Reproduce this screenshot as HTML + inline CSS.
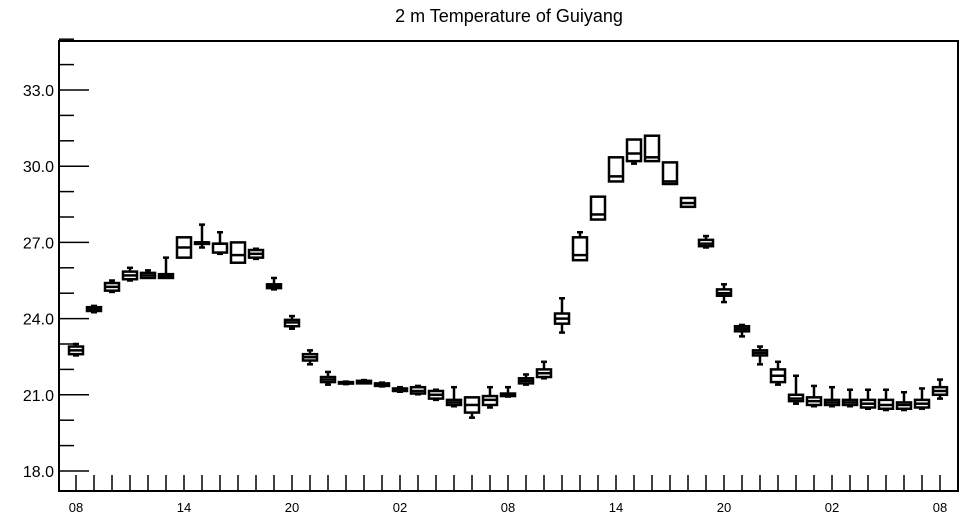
<!DOCTYPE html>
<html><head><meta charset="utf-8"><style>
body{margin:0;background:#fff;width:964px;height:520px;overflow:hidden}
svg text{font-family:"Liberation Sans",Arial,sans-serif;fill:#000}
</style></head><body>
<svg id="chart" width="964" height="520" viewBox="0 0 964 520" xmlns="http://www.w3.org/2000/svg">
<text x="509" y="22" font-size="18" text-anchor="middle">2 m Temperature of Guiyang</text>
<rect x="59" y="41" width="899" height="450" fill="none" stroke="#000" stroke-width="2"/>
<g id="axes"></g>
<g id="boxes"></g>
</svg>
<script>
const hourLabels = ["08","14","20","02","08","14","20","02","08"];
const yTicks = [18,21,24,27,30,33];
const mins = [22.55,24.25,25.05,25.5,25.6,25.6,26.4,26.8,26.55,26.2,26.35,25.15,23.6,22.2,21.4,21.42,21.45,21.33,21.12,21.02,20.8,20.55,20.1,20.5,20.93,21.4,21.65,23.45,26.3,27.9,29.4,30.1,30.2,29.3,28.4,26.8,24.65,23.3,22.2,21.4,20.65,20.55,20.55,20.55,20.45,20.4,20.4,20.45,20.85];
const q1s = [22.6,24.3,25.1,25.55,25.6,25.6,26.4,26.95,26.6,26.2,26.4,25.2,23.7,22.35,21.5,21.45,21.45,21.35,21.15,21.05,20.85,20.6,20.3,20.6,20.95,21.45,21.7,23.8,26.3,27.9,29.4,30.2,30.2,29.3,28.4,26.85,24.9,23.5,22.55,21.5,20.75,20.6,20.6,20.6,20.5,20.45,20.45,20.5,21.0];
const meds = [22.75,24.38,25.25,25.7,25.7,25.68,26.8,27.0,26.95,26.5,26.55,25.28,23.85,22.48,21.6,21.48,21.5,21.4,21.2,21.15,21.0,20.7,20.6,20.8,21.0,21.55,21.85,24.0,26.5,28.1,29.6,30.5,30.35,29.4,28.55,26.95,25.0,23.6,22.65,21.75,20.85,20.75,20.7,20.7,20.65,20.6,20.6,20.65,21.15];
const q3s = [22.9,24.45,25.4,25.85,25.8,25.75,27.2,27.0,26.95,27.0,26.7,25.35,23.95,22.6,21.7,21.5,21.55,21.45,21.25,21.3,21.15,20.8,20.9,20.95,21.05,21.65,22.0,24.2,27.2,28.8,30.35,31.05,31.2,30.15,28.75,27.1,25.15,23.7,22.75,22.0,21.0,20.9,20.8,20.8,20.8,20.8,20.7,20.8,21.3];
const maxs = [23.0,24.5,25.5,26.0,25.9,26.4,27.2,27.7,27.4,27.0,26.75,25.6,24.1,22.75,21.9,21.52,21.58,21.48,21.3,21.35,21.2,21.3,20.9,21.3,21.3,21.8,22.3,24.8,27.4,28.8,30.35,31.05,31.2,30.15,28.75,27.25,25.35,23.75,22.9,22.3,21.75,21.35,21.3,21.2,21.2,21.2,21.1,21.25,21.6];

const NS="http://www.w3.org/2000/svg";
const x = i => 76 + i*18;
const y = v => 471 - (v-18)*25.4;
function mk(tag, attrs, parent){const e=document.createElementNS(NS,tag);for(const k in attrs)e.setAttribute(k,attrs[k]);parent.appendChild(e);return e;}
const axes=document.getElementById('axes'), boxes=document.getElementById('boxes');
// y ticks
for(let v=18; v<=35; v++){
  const major = yTicks.includes(v);
  const t=mk('line',{x1:59,x2:major?89:74,y1:y(v),y2:y(v),stroke:'#000','stroke-width':1.5},axes);
  
  
}
yTicks.forEach(v=>{
  const t=mk('text',{x:54,y:y(v)+6,'font-size':16,'text-anchor':'end'},axes);
  t.textContent=v.toFixed(1);
  
  
});
// x ticks
for(let i=0;i<mins.length;i++){
  const t=mk('line',{x1:x(i),x2:x(i),y1:491,y2:475,stroke:'#000','stroke-width':1.5},axes);
  
  
}
hourLabels.forEach((l,k)=>{
  const t=mk('text',{x:x(k*6),y:512,'font-size':13,'text-anchor':'middle'},axes);
  t.textContent=l;
  
  
});
// boxes
for(let i=0;i<mins.length;i++){
  const g=mk('g',{stroke:'#000','stroke-width':2.5,fill:'none'},boxes);
  
  
  const cx=x(i), w=14;
  const top=y(q3s[i]), bot=y(q1s[i]);
  mk('rect',{x:cx-w/2,y:top,width:w,height:Math.max(bot-top,1.5)},g);
  mk('line',{x1:cx-w/2,x2:cx+w/2,y1:y(meds[i]),y2:y(meds[i])},g);
  if(maxs[i]>q3s[i]){mk('line',{x1:cx,x2:cx,y1:top,y2:y(maxs[i])},g);mk('line',{x1:cx-3,x2:cx+3,y1:y(maxs[i]),y2:y(maxs[i])},g);}
  if(mins[i]<q1s[i]){mk('line',{x1:cx,x2:cx,y1:bot,y2:y(mins[i])},g);mk('line',{x1:cx-3,x2:cx+3,y1:y(mins[i]),y2:y(mins[i])},g);}
}
</script>
</body></html>
